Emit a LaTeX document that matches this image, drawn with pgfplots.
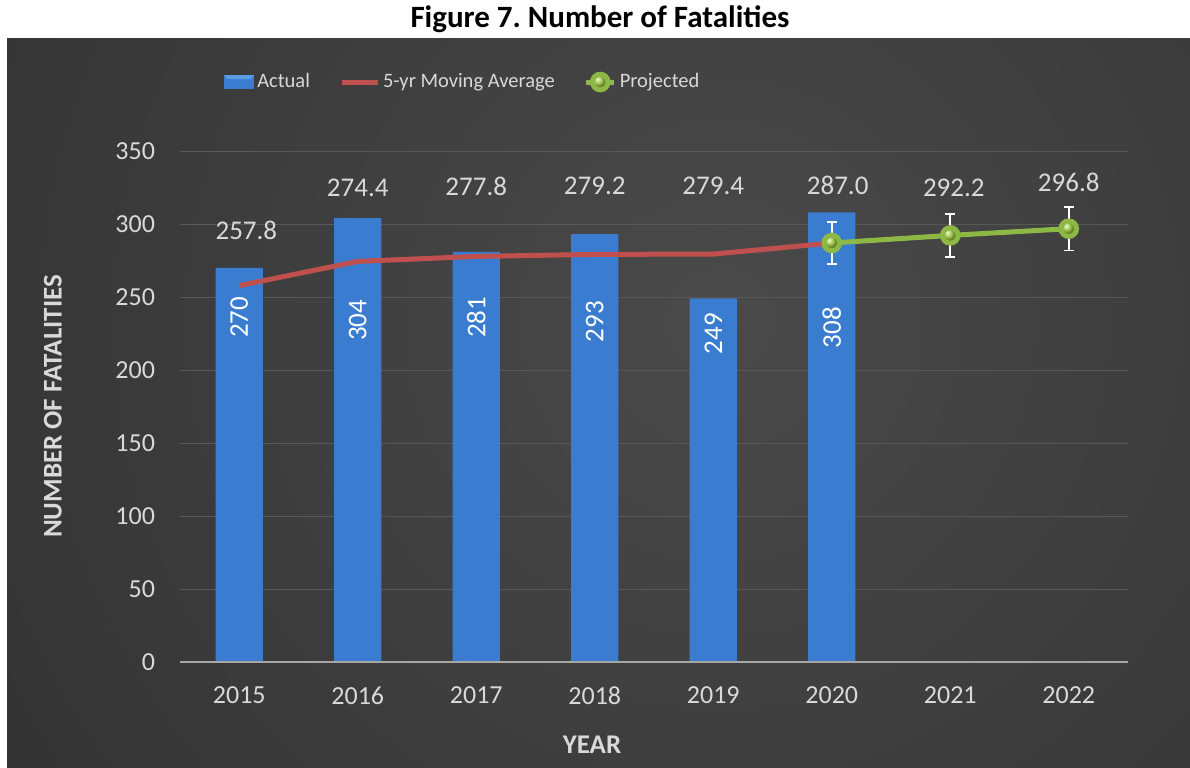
\documentclass[border=0pt]{standalone}
\usepackage{pgfplots}
\pgfplotsset{compat=1.18}
\usepackage{fontspec}
\setmainfont{Carlito}
\frenchspacing
\definecolor{bgin}{HTML}{4A4A4A}
\definecolor{bgout}{HTML}{232323}
\definecolor{barblue}{HTML}{3A7CD0}
\definecolor{barlight}{HTML}{5E9BE6}
\definecolor{mared}{HTML}{C0504D}
\definecolor{prgreen}{HTML}{8DB845}
\definecolor{ballgreen}{HTML}{9CCB3A}
\definecolor{txtgray}{HTML}{D9D9D9}
\definecolor{gridgray}{HTML}{585858}
\definecolor{axgray}{HTML}{A6A6A6}
\begin{document}
\begin{tikzpicture}
\useasboundingbox (0pt,0pt) rectangle (595pt,-383.5pt);
\begin{scope}
\clip (3.5pt,-19pt) rectangle (595pt,-383.5pt);
\shade[inner color=bgin, outer color=bgout] (360pt,-160pt) circle (720pt);
\end{scope}
\node[font=\bfseries\fontsize{15.5}{18}\selectfont, text=black] at (300pt,-9.5pt) {Figure 7. Number of Fatalities};
\begin{axis}[
  at={(90pt,-331pt)}, anchor=south west,
  scale only axis, width=474pt, height=255.5pt,
  xmin=-0.5, xmax=7.5, ymin=0, ymax=350,
  xtick={0,...,7}, xticklabels={2015,2016,2017,2018,2019,2020,2021,2022},
  ytick={0,50,...,350},
  /pgf/number format/assume math mode=true,
  axis line style={draw=none},
  major tick length=0pt,
  ymajorgrids, grid style={gridgray, line width=0.5pt},
  tick label style={text=txtgray, font=\fontsize{13}{15}\selectfont},
  yticklabel style={xshift=-9pt},
  xticklabel style={yshift=-9pt},
  xlabel={YEAR}, ylabel={NUMBER OF FATALITIES},
  label style={text=txtgray, font=\bfseries\fontsize{13.5}{16}\selectfont},
  xlabel style={at={(axis description cs:0.4346,-0.162)}, anchor=center},
  ylabel style={at={(axis description cs:-0.134,0.5)}, anchor=center},
  clip=false,
  legend columns=3,
  legend style={at={(axis description cs:0.040,1.135)}, anchor=west, draw=none, fill=none,
    text=txtgray, font=\fontsize{10.25}{12}\selectfont, nodes={inner xsep=1.5pt},
    /tikz/every even column/.append style={column sep=13pt}},
]
\addplot[ybar, bar width=0.4, draw=none, fill=barblue,
  legend image code/.code={\fill[barblue] (0pt,-3.5pt) rectangle (15pt,3.5pt);
    \fill[barlight] (0pt,3.5pt) -- (15pt,3.5pt) -- (13.5pt,1.5pt) -- (1.5pt,1.5pt) -- cycle;}]
  coordinates {(0,270) (1,304) (2,281) (3,293) (4,249) (5,308)};
\addlegendentry{Actual}
\addplot[mared, line width=2.5pt, no marks,
  legend image code/.code={\draw[mared, line width=2.5pt] (0pt,0pt) -- (18pt,0pt);}]
  coordinates {(0,257.8) (1,274.4) (2,277.8) (3,279.2) (4,279.4) (5,287.0)};
\addlegendentry{5-yr Moving Average}
\addplot[prgreen, line width=2.5pt, mark=ball, mark size=3.9pt,
  mark options={ball color=ballgreen},
  legend image code/.code={\draw[prgreen, line width=2.5pt] (0pt,0pt) -- (14pt,0pt);
    \shade[ball color=ballgreen] (7pt,0pt) circle (3.9pt);},
  error bars/.cd, y dir=both, y explicit,
  error bar style={white, line width=0.8pt},
  error mark options={rotate=90, mark size=2.6pt, white, line width=0.8pt}]
  coordinates {(5,287.0) +- (0,14.35) (6,292.2) +- (0,14.61) (7,296.8) +- (0,14.84)};
\addlegendentry{Projected}
\draw[axgray, line width=0.8pt] (axis cs:-0.5,0) -- (axis cs:7.5,0);
\begin{scope}[every node/.style={text=txtgray, font=\fontsize{13.5}{16}\selectfont}]
\node at (axis cs:0.06,295.9) {257.8};
\node at (axis cs:1,324.7) {274.4};
\node at (axis cs:2,326) {277.8};
\node at (axis cs:3,326) {279.2};
\node at (axis cs:4,326) {279.4};
\node at (axis cs:5.05,326.7) {287.0};
\node at (axis cs:6.03,324.7) {292.2};
\node at (axis cs:7,328.8) {296.8};
\end{scope}
\begin{scope}[every node/.style={text=white, rotate=90, font=\fontsize{13.5}{16}\selectfont}]
\node at (axis cs:0,236) {270};
\node at (axis cs:1,234) {304};
\node at (axis cs:2,236) {281};
\node at (axis cs:3,233) {293};
\node at (axis cs:4,225) {249};
\node at (axis cs:5,229) {308};
\end{scope}
\end{axis}
\end{tikzpicture}
\end{document}
